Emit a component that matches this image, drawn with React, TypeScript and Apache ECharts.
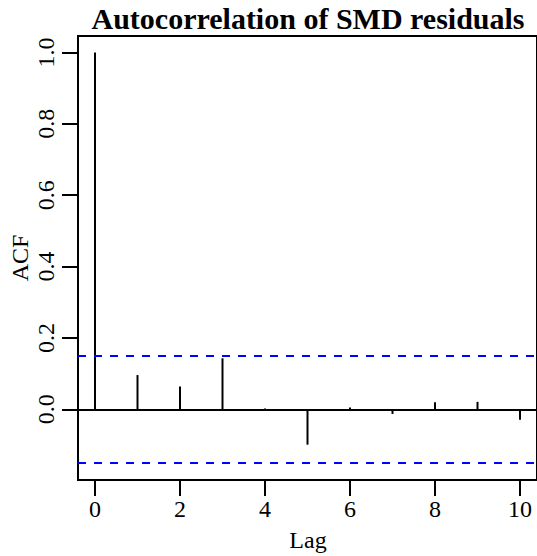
import React, { useEffect, useRef } from "react";
import * as echarts from "echarts";

const lags = [0, 1, 2, 3, 4, 5, 6, 7, 8, 9, 10];
const acfValues = [1.0, 0.096, 0.064, 0.143, 0.002, -0.099, 0.005, -0.013, 0.02, 0.021, -0.029];
const confLimit = 0.152;
const xTicks = [0, 2, 4, 6, 8, 10];
const yTicks = [0, 0.2, 0.4, 0.6, 0.8, 1.0];
const titleText = "Autocorrelation of SMD residuals";
const xName = "Lag";
const yName = "ACF";

const FONT = "Liberation Serif, DejaVu Serif, serif";

export default function App() {
  const ref = useRef<HTMLDivElement>(null);
  useEffect(() => {
    if (!ref.current) return;
    const chart = echarts.init(ref.current, null, { renderer: "svg" });
    const yMin = -0.198;
    const yMax = 1.046;
    const option: any = {
      animation: false,
      backgroundColor: "#ffffff",
      grid: {
        left: 78,
        top: 36,
        bottom: 76,
        right: -2,
        show: true,
        borderColor: "#000",
        borderWidth: 2,
        backgroundColor: "transparent",
      },
      xAxis: {
        type: "value",
        min: -0.4,
        max: 10.4,
        splitLine: { show: false },
        axisLine: { show: false, onZero: false },
        axisTick: {
          show: true,
          length: 16,
          lineStyle: { color: "#000", width: 2 },
          customValues: xTicks,
        },
        axisLabel: {
          customValues: xTicks,
          color: "#000",
          fontFamily: FONT,
          fontSize: 24,
          margin: 17,
          formatter: (v: number) => String(v),
        },
      },
      yAxis: {
        type: "value",
        min: yMin,
        max: yMax,
        splitLine: { show: false },
        axisLine: { show: false, onZero: false },
        axisTick: {
          show: true,
          length: 16,
          lineStyle: { color: "#000", width: 2 },
          customValues: yTicks,
        },
        axisLabel: {
          customValues: yTicks,
          rotate: 90,
          color: "#000",
          fontFamily: FONT,
          fontSize: 24,
          margin: 20,
          formatter: (v: number) => v.toFixed(1),
        },
      },
      series: [
        {
          type: "custom",
          data: lags.map((l, i) => [l, acfValues[i]]),
          renderItem: (params: any, api: any) => {
            const p0 = api.coord([api.value(0), 0]);
            const p1 = api.coord([api.value(0), api.value(1)]);
            return {
              type: "line",
              shape: { x1: p0[0], y1: p0[1], x2: p1[0], y2: p1[1] },
              style: { stroke: "#000", lineWidth: 2 },
            };
          },
          markLine: {
            silent: true,
            symbol: "none",
            label: { show: false },
            data: [
              { yAxis: 0, lineStyle: { color: "#000", width: 2, type: "solid" } },
              { yAxis: confLimit, lineStyle: { color: "#0000ff", width: 2, type: [8, 8] } },
              { yAxis: -confLimit, lineStyle: { color: "#0000ff", width: 2, type: [8, 8] } },
            ],
          },
        },
      ],
      graphic: [
        {
          type: "text",
          x: 308,
          y: 18,
          style: {
            text: titleText,
            fill: "#000",
            fontFamily: FONT,
            fontWeight: "bold",
            fontSize: 30,
            textAlign: "center",
            textVerticalAlign: "middle",
          },
        },
        {
          type: "text",
          x: 308,
          y: 540,
          style: {
            text: xName,
            fill: "#000",
            fontFamily: FONT,
            fontSize: 24,
            textAlign: "center",
            textVerticalAlign: "middle",
          },
        },
        {
          type: "text",
          x: 20,
          y: 258,
          rotation: Math.PI / 2,
          style: {
            text: yName,
            fill: "#000",
            fontFamily: FONT,
            fontSize: 24,
            textAlign: "center",
            textVerticalAlign: "middle",
          },
        },
      ],
    };
    chart.setOption(option);
    return () => chart.dispose();
  }, []);
  return (
    <div
      ref={ref}
      style={{ position: "fixed", left: 0, top: 0, width: 537, height: 556, background: "#fff" }}
    />
  );
}
